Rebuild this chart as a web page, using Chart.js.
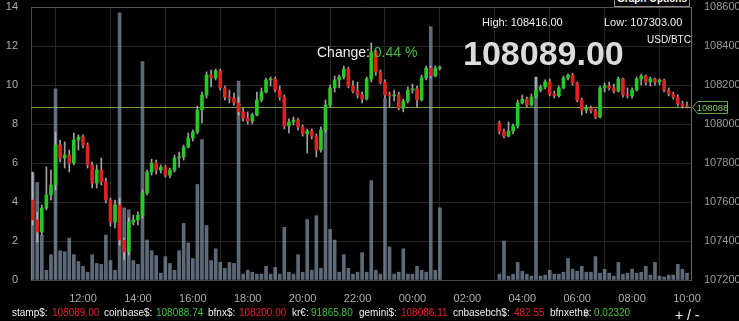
<!DOCTYPE html>
<html>
<head>
<meta charset="utf-8">
<script src="https://cdn.jsdelivr.net/npm/chart.js"></script>
<style>
  html, body { margin: 0; padding: 0; background: #000; overflow: hidden; }
  #wrap { position: relative; width: 760px; height: 321px; }
  #wrap canvas { position: absolute; left: 0; top: 0; }
  .t { position: absolute; white-space: nowrap; line-height: 1; font-family: 'Liberation Sans', Arial, sans-serif; color: #f0f0f0; }
  .red { color: #e52222; }
  .green { color: #3cc43a; }
  .leg { font-size: 10px; top: 308px; }
  #opts { position: absolute; left: 614px; top: -11px; width: 76px; height: 18px; box-sizing: border-box;
          border: 1px solid #8a8a8a; background: #000; color: #fff; font: bold 10px 'Liberation Sans', Arial, sans-serif;
          line-height: 10px; padding-top: 4px; text-align: center; white-space: nowrap; overflow: hidden; }
</style>
</head>
<body>
<div id="wrap">
  <canvas id="chart" width="760" height="321"></canvas>
  <div id="opts">Graph Options</div>
  <div class="t" style="left:482px; top:17px; font-size:11px;">High: 108416.00</div>
  <div class="t" style="left:604px; top:17px; font-size:11px;">Low: 107303.00</div>
  <div class="t" style="left:647px; top:35px; font-size:10px;">USD/BTC</div>
  <div class="t" style="left:463px; top:36px; font-size:34px; font-weight:bold; color:#dcdcdc;">108089.00</div>
  <div class="t" style="left:317px; top:45px; font-size:14px;">Change: <span class="green">0.44 %</span></div>

  <div class="t leg" style="left:12px;">stamp$:</div>
  <div class="t leg red" style="left:52px;">108089.00</div>
  <div class="t leg" style="left:104px;">coinbase$:</div>
  <div class="t leg green" style="left:156px;">108088.74</div>
  <div class="t leg" style="left:208px;">bfnx$:</div>
  <div class="t leg red" style="left:239px;">108200.00</div>
  <div class="t leg" style="left:292px;">kr€:</div>
  <div class="t leg green" style="left:311px;">91865.80</div>
  <div class="t leg" style="left:359px;">gemini$:</div>
  <div class="t leg red" style="left:401px;">108086.11</div>
  <div class="t leg" style="left:453px;">cnbasebch$:</div>
  <div class="t leg red" style="left:514px;">482.55</div>
  <div class="t leg" style="left:550px;">bfnxeth฿:</div>
  <div class="t leg green" style="left:594px;">0.02320</div>
  <div class="t" style="left:675px; top:308px; font-size:14px;">+ / -</div>
</div>
<script>
document.addEventListener('DOMContentLoaded', function () {
  // 10 minute candles, USD/BTC
  const times = [
    '10:10','10:20','10:30','10:40','10:50',
    '11:00','11:10','11:20','11:30','11:40','11:50',
    '12:00','12:10','12:20','12:30','12:40','12:50',
    '13:00','13:10','13:20','13:30','13:40','13:50',
    '14:00','14:10','14:20','14:30','14:40','14:50',
    '15:00','15:10','15:20','15:30','15:40','15:50',
    '16:00','16:10','16:20','16:30','16:40','16:50',
    '17:00','17:10','17:20','17:30','17:40','17:50',
    '18:00','18:10','18:20','18:30','18:40','18:50',
    '19:00','19:10','19:20','19:30','19:40','19:50',
    '20:00','20:10','20:20','20:30','20:40','20:50',
    '21:00','21:10','21:20','21:30','21:40','21:50',
    '22:00','22:10','22:20','22:30','22:40','22:50',
    '23:00','23:10','23:20','23:30','23:40','23:50',
    '00:00','00:10','00:20','00:30','00:40','00:50',
    '01:00',
    '03:10','03:20','03:30','03:40','03:50',
    '04:00','04:10','04:20','04:30','04:40','04:50',
    '05:00','05:10','05:20','05:30','05:40','05:50',
    '06:00','06:10','06:20','06:30','06:40','06:50',
    '07:00','07:10','07:20','07:30','07:40','07:50',
    '08:00','08:10','08:20','08:30','08:40','08:50',
    '09:00','09:10','09:20','09:30','09:40','09:50',
    '10:00'
  ];

  const opens = [
    107610,107508,107446,107569,107636,
    107687,107892,107826,107841,107800,107918,
    107933,107892,107790,107697,107764,107703,
    107610,107497,107585,107405,107344,107497,
    107508,107533,107646,107754,107800,107764,
    107779,107738,107764,107826,107831,107882,
    107928,107959,108072,108149,108251,108236,
    108272,108185,108138,108133,108108,108062,
    108031,108015,108046,108123,108164,108226,
    108231,108174,108138,107990,108010,108021,
    107985,107949,107964,107938,107867,107969,
    108097,108185,108226,108241,108282,108195,
    108169,108149,108128,108231,108369,108267,
    108215,108149,108144,108149,108082,108118,
    108174,108180,108123,108236,108287,108246,
    108287,
    108005,107964,107938,107964,107990,
    108108,108128,108097,108138,108174,108190,
    108215,108154,108144,108185,108236,108251,
    108210,108123,108072,108082,108067,108036,
    108185,108195,108185,108169,108231,108149,
    108144,108174,108231,108246,108215,108231,
    108215,108226,108174,108154,108138,108103,
    108092
  ];

  const highs = [
    107754,107549,107585,107780,107764,
    107959,107918,107908,107867,107954,107944,
    107944,107903,107805,107790,107826,107723,
    107620,107610,107620,107415,107518,107533,
    107549,107662,107764,107820,107815,107790,
    107790,107774,107841,107856,107892,107954,
    107969,108092,108164,108267,108277,108282,
    108282,108195,108174,108159,108138,108082,
    108062,108056,108164,108185,108236,108241,
    108241,108195,108149,108026,108036,108031,
    107995,107974,107974,107949,107985,108123,
    108200,108246,108251,108297,108292,108221,
    108215,108164,108241,108416,108379,108277,
    108226,108164,108174,108164,108128,108190,
    108205,108195,108251,108297,108297,108297,
    108297,
    108015,107974,108010,108000,108123,
    108149,108138,108154,108241,108200,108226,
    108231,108169,108195,108246,108256,108261,
    108215,108133,108097,108092,108077,108195,
    108210,108215,108205,108241,108236,108185,
    108185,108241,108256,108251,108241,108236,
    108231,108231,108185,108164,108149,108118,
    108113
  ];

  const lows = [
    107482,107395,107431,107559,107610,
    107662,107805,107774,107754,107790,107867,
    107877,107774,107672,107672,107687,107595,
    107477,107467,107379,107303,107328,107482,
    107482,107518,107636,107738,107743,107749,
    107728,107723,107754,107779,107815,107877,
    107913,107949,108005,108133,108190,108226,
    108174,108123,108108,108097,108046,108015,
    108000,108000,108041,108113,108159,108195,
    108164,108123,107974,107954,107995,107969,
    107938,107851,107923,107831,107856,107959,
    108087,108164,108185,108231,108185,108159,
    108133,108108,108123,108215,108251,108205,
    108133,108087,108118,108072,108062,108108,
    108159,108087,108118,108226,108236,108241,
    108277,
    107949,107928,107933,107949,107979,
    108103,108087,108092,108133,108164,108180,
    108144,108133,108138,108180,108226,108200,
    108113,108046,108056,108056,108026,108031,
    108164,108174,108159,108164,108138,108133,
    108133,108169,108200,108200,108195,108200,
    108200,108164,108144,108128,108092,108082,
    108082
  ];

  const closes = [
    107508,107446,107569,107636,107687,
    107892,107826,107841,107800,107918,107933,
    107892,107790,107697,107764,107703,107610,
    107497,107585,107405,107344,107497,107508,
    107533,107646,107754,107800,107764,107779,
    107738,107764,107826,107831,107882,107928,
    107959,108072,108149,108251,108236,108272,
    108185,108138,108133,108108,108062,108031,
    108015,108046,108123,108164,108226,108231,
    108174,108138,107990,108010,108021,107985,
    107949,107964,107938,107867,107969,108097,
    108185,108226,108241,108282,108195,108169,
    108149,108128,108231,108369,108267,108215,
    108149,108144,108149,108082,108118,108174,
    108180,108123,108236,108287,108246,108287,
    108292,
    107964,107938,107964,107990,108108,
    108128,108097,108138,108174,108190,108215,
    108154,108144,108185,108236,108251,108210,
    108123,108072,108082,108067,108036,108185,
    108195,108185,108169,108231,108149,108144,
    108174,108231,108246,108215,108231,108215,
    108226,108174,108154,108138,108103,108092,
    108088
  ];

  // volume, BTC (left axis)
  const volumes = [
    5.5,5.0,2.3,0.5,1.3,
    9.8,1.5,1.45,2.15,1.3,0.95,
    0.7,0.4,1.3,0.85,0.8,2.3,
    1.0,0.5,13.7,3.7,3.6,1.0,
    0.8,11.2,2.05,1.5,1.25,0.35,
    1.2,0.85,0.5,1.5,2.9,1.9,
    1.1,4.9,7.2,2.8,1.0,1.6,
    0.9,0.6,0.9,0.85,10.2,0.3,
    0.5,0.4,0.3,0.3,0.7,0.3,
    0.65,0.3,2.7,0.4,0.3,1.3,
    0.4,3.1,0.5,3.3,0.6,8.0,
    2.6,2.05,0.4,1.3,0.6,0.3,
    0.4,1.4,0.4,5.1,0.5,0.3,
    9.3,1.7,0.3,0.4,1.6,0.3,
    0.3,0.7,0.5,0.4,13.0,0.5,
    3.7,
    0.3,2.0,0.2,0.3,0.9,
    0.45,0.3,0.2,10.4,0.2,0.25,
    0.5,0.3,0.3,0.4,1.1,0.55,
    0.45,0.7,0.4,0.4,1.2,0.35,
    0.55,0.35,0.2,0.9,0.3,0.35,
    0.55,0.35,0.4,0.7,0.25,0.9,
    0.2,0.15,0.25,0.25,0.8,0.55,
    0.35
  ];

  const xTickLabels = ['12:00','14:00','16:00','18:00','20:00','22:00','00:00','02:00','04:00','06:00','08:00','10:00'];
  const volumeTicks = [0, 2, 4, 6, 8, 10, 12, 14];
  const priceTicks = [107200, 107400, 107600, 107800, 108000, 108200, 108400, 108600];
  const lastPrice = 108088;

  const GREEN = '#26c924';
  const RED = '#dc2320';
  const WICK = 'rgba(190,190,190,0.85)';
  const VOL = 'rgba(150,170,192,0.62)';

  // hours since midnight of the first day
  function toHours(s) {
    const parts = s.split(':').map(Number);
    let v = parts[0] + parts[1] / 60;
    if (v < 10.1) v += 24;
    return v;
  }

  const xs = times.map(toHours);

  const priceLine = {
    id: 'priceLine',
    beforeDatasetsDraw(chart) {
      const ctx = chart.ctx, a = chart.chartArea;
      const y = Math.round(chart.scales.y2.getPixelForValue(lastPrice)) + 0.5;
      ctx.save();
      ctx.strokeStyle = '#789c34';
      ctx.lineWidth = 1;
      ctx.beginPath();
      ctx.moveTo(a.left, y);
      ctx.lineTo(a.right, y);
      ctx.stroke();
      ctx.restore();
    },
    afterDraw(chart) {
      const ctx = chart.ctx, a = chart.chartArea;
      const y = Math.round(chart.scales.y2.getPixelForValue(lastPrice)) + 0.5;
      const x0 = a.right + 1.5;
      ctx.save();
      ctx.beginPath();
      ctx.moveTo(x0, y);
      ctx.lineTo(x0 + 5, y - 6);
      ctx.lineTo(x0 + 35, y - 6);
      ctx.lineTo(x0 + 35, y + 6);
      ctx.lineTo(x0 + 5, y + 6);
      ctx.closePath();
      ctx.fillStyle = '#000';
      ctx.fill();
      ctx.strokeStyle = '#6aa84f';
      ctx.lineWidth = 1;
      ctx.stroke();
      ctx.fillStyle = '#7ccf5a';
      ctx.font = '9.5px "Liberation Sans", Arial, sans-serif';
      ctx.textAlign = 'center';
      ctx.textBaseline = 'middle';
      ctx.fillText(String(lastPrice), x0 + 20, y + 0.5);
      ctx.restore();
    }
  };

  Chart.defaults.font.family = '"Liberation Sans", Arial, sans-serif';
  Chart.defaults.font.size = 11;

  const config = {
    type: 'bar',
    data: {
      datasets: [
        {
          label: 'body',
          yAxisID: 'y2',
          data: opens.map((o, i) => ({ x: xs[i], y: [o, closes[i]] })),
          backgroundColor: opens.map((o, i) => closes[i] >= o ? GREEN : RED),
          barThickness: 3,
          minBarLength: 1,
          grouped: false,
          order: 1
        },
        {
          label: 'wick',
          yAxisID: 'y2',
          data: lows.map((l, i) => ({ x: xs[i], y: [l, highs[i]] })),
          backgroundColor: WICK,
          barThickness: 1,
          grouped: false,
          order: 2
        },
        {
          label: 'volume',
          yAxisID: 'y',
          data: volumes.map((v, i) => ({ x: xs[i], y: v })),
          backgroundColor: VOL,
          barThickness: 3,
          grouped: false,
          order: 3
        }
      ]
    },
    options: {
      responsive: false,
      animation: false,
      events: [],
      layout: { padding: { top: 7, left: 0, right: 0, bottom: 0 } },
      plugins: {
        legend: { display: false },
        tooltip: { enabled: false }
      },
      scales: {
        x: {
          type: 'linear',
          min: 10.106,
          max: 34.146,
          offset: false,
          afterBuildTicks: (s) => { s.ticks = xTickLabels.map(l => ({ value: toHours(l) })); },
          afterFit: (s) => { s.height = 41; },
          ticks: {
            color: '#adadad',
            padding: 12,
            maxRotation: 0,
            autoSkip: false,
            callback: (v, i) => xTickLabels[i]
          },
          grid: { color: '#262626', drawTicks: false },
          border: { color: '#444' }
        },
        y: {
          position: 'left',
          min: volumeTicks[0],
          max: volumeTicks[volumeTicks.length - 1],
          afterFit: (s) => { s.width = 31; s.paddingTop = 0; s.paddingBottom = 0; },
          ticks: { stepSize: volumeTicks[1] - volumeTicks[0], color: '#adadad', padding: 13 },
          grid: {
            color: (c) => c.tick && c.tick.value === volumeTicks[volumeTicks.length - 1] ? '#555' : '#262626',
            drawTicks: false
          },
          border: { color: '#4a4a4a' }
        },
        y2: {
          position: 'right',
          min: priceTicks[0],
          max: priceTicks[priceTicks.length - 1],
          afterFit: (s) => { s.width = 69; s.paddingTop = 0; s.paddingBottom = 0; },
          ticks: {
            stepSize: priceTicks[1] - priceTicks[0],
            color: '#9a9a9a',
            padding: 13,
            callback: (v) => String(v)
          },
          grid: { display: false, drawTicks: false },
          border: { color: '#6a6a6a' }
        }
      }
    },
    plugins: [priceLine]
  };

  new Chart(document.getElementById('chart').getContext('2d'), config);
});
</script>
</body>
</html>
